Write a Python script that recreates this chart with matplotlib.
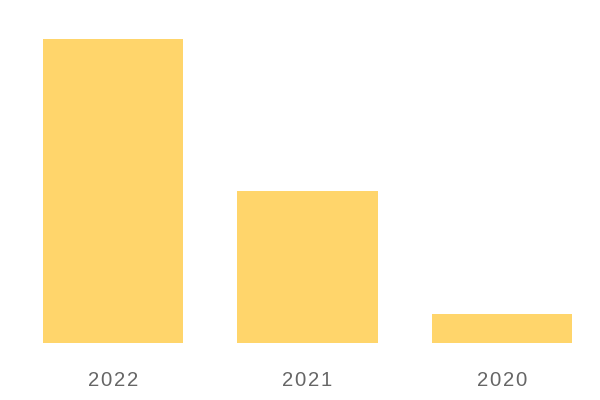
import matplotlib
matplotlib.use("Agg")
import matplotlib.pyplot as plt

years = ["2022", "2021", "2020"]
values = [100, 50, 9.5]

fig = plt.figure(figsize=(6, 4), dpi=100)
ax = fig.add_axes([15.75/600, (400-343)/400, 583.5/600, 304/400])
x = range(len(years))
ax.bar(x, values, width=0.72, color="#FFD56B")
ax.set_xlim(-0.5, 2.5)
ax.set_ylim(0, 100)
ax.set_xticks(list(x))
spaced = ["\u200a".join(y) for y in years]
ax.set_xticklabels(spaced, fontfamily=["Liberation Sans", "DejaVu Sans"],
                   fontsize=14.6, color="#666666")
ax.tick_params(axis="x", length=0, pad=20)
ax.set_yticks([])
for s in ax.spines.values():
    s.set_visible(False)
fig.savefig("out.png", dpi=100)
